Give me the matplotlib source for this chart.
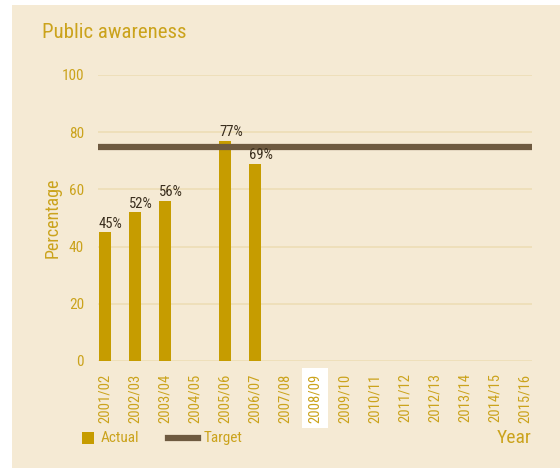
import matplotlib.pyplot as plt
from matplotlib.patches import Rectangle
from matplotlib.lines import Line2D

years = ["2001/02", "2002/03", "2003/04", "2004/05", "2005/06", "2006/07", "2007/08",
         "2008/09", "2009/10", "2010/11", "2011/12", "2012/13", "2013/14", "2014/15", "2015/16"]
actual = [45, 52, 56, None, 77, 69]
target = 75
yticks = [0, 20, 40, 60, 80, 100]

GOLD = "#C69C00"
TEXT_GOLD = "#CBA31C"
BROWN = "#6E5A40"
BG = "#F5EAD4"
GRID = "#EDDDB5"
FONT = ["Liberation Sans Narrow", "Roboto Condensed", "DejaVu Sans"]

plt.rcParams['font.family'] = FONT

fig = plt.figure(figsize=(5.6, 4.68), dpi=100)
fig.patch.set_facecolor("white")
fig.patches.append(Rectangle((12 / 560, 0), 1, 1 - 5 / 468, transform=fig.transFigure,
                             facecolor=BG, edgecolor="none", zorder=-10))

ax = fig.add_axes([98 / 560, 1 - 361 / 468, 434 / 560, 286 / 468])
ax.set_facecolor("none")

bw = 0.4
xs = list(range(len(years)))
for i, v in enumerate(actual):
    if v is None:
        continue
    ax.bar(i, v, width=bw, color=GOLD, zorder=3)
    ax.text(i - bw / 2, v + 0.6, f"{v}%", ha="left", va="bottom", fontsize=10.5,
            color="#3A2E1E", zorder=6)

ax.axhline(target, color=BROWN, linewidth=4.5, zorder=5)

ax.set_xlim(-0.233, len(years) - 1 + 0.233)
ax.set_ylim(0, 100)
ax.set_yticks(yticks)
ax.yaxis.grid(True, color=GRID, linewidth=1.2, zorder=1)
ax.set_axisbelow(True)
for s in ax.spines.values():
    s.set_visible(False)
ax.tick_params(length=0)
ax.tick_params(axis="y", colors=TEXT_GOLD, labelsize=11, pad=10)
ax.set_xticks(xs)
ax.set_xticklabels(years, rotation=90, color=TEXT_GOLD, fontsize=10.5)
ax.tick_params(axis="x", pad=9)
for lbl in ax.get_xticklabels():
    if lbl.get_text() == "2008/09":
        lbl.set_bbox(dict(facecolor="white", edgecolor="none", pad=4))

ax.set_ylabel("Percentage", color=TEXT_GOLD, fontsize=13, labelpad=0)

fig.text(42 / 560, 1 - 33 / 468, "Public awareness", color=TEXT_GOLD, fontsize=15,
         va="center", ha="left")

# legend drawn by hand in figure pixel coordinates
W, H = 560, 468
ly = 1 - 438 / H
fig.add_artist(Rectangle((82 / W, 1 - 444 / H), 12 / W, 12 / H, transform=fig.transFigure,
                         facecolor=GOLD, edgecolor="none"))
fig.text(101 / W, ly, "Actual", color=TEXT_GOLD, fontsize=11, va="center", ha="left")
fig.add_artist(Line2D([168 / W, 198 / W], [ly, ly], transform=fig.transFigure,
                      color=BROWN, linewidth=4.5))
fig.text(204 / W, ly, "Target", color=TEXT_GOLD, fontsize=11, va="center", ha="left")

fig.text(532 / W, ly, "Year", color=TEXT_GOLD, fontsize=14,
         ha="right", va="center")

fig.savefig("out.png", dpi=100)
